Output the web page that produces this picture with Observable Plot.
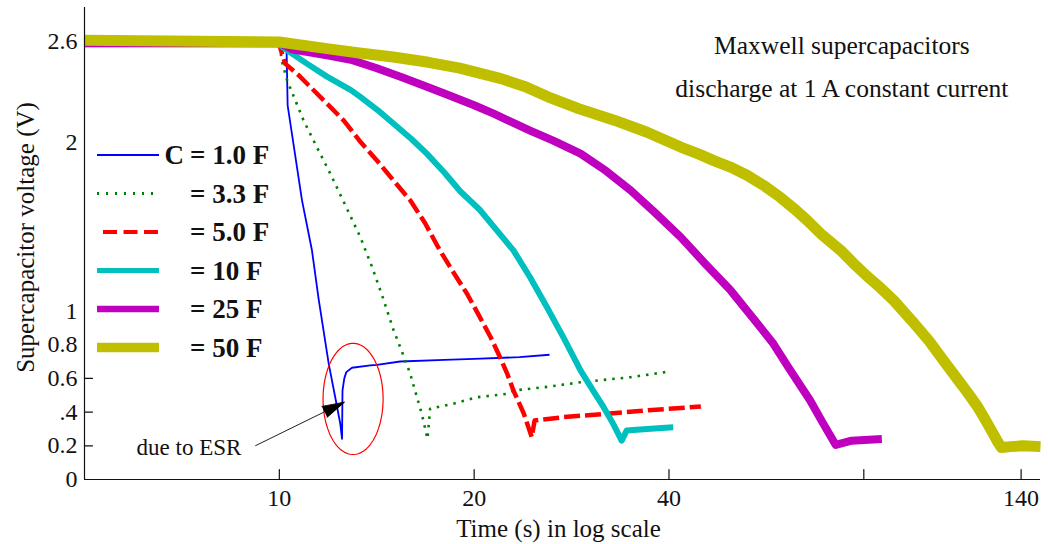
<!DOCTYPE html>
<html>
<head>
<meta charset="utf-8">
<script src="https://cdn.jsdelivr.net/npm/d3@7"></script>
<script src="https://cdn.jsdelivr.net/npm/@observablehq/plot@0.6"></script>
<style>
  body { margin: 0; background: #fff; }
  #chart { width: 1048px; height: 544px; }
</style>
</head>
<body>
<div id="chart"></div>
<script>
// ---------------- data ----------------
const seriesNames = ["1.0 F", "3.3 F", "5.0 F", "10 F", "25 F", "50 F"];
const legendLabels = ["= 1.0 F", "= 3.3 F", "= 5.0 F", "= 10 F", "= 25 F", "= 50 F"];

const time_1F = [5, 10.0, 10.26, 10.3, 10.84, 11.23, 11.5, 11.92, 12.2, 12.42, 12.5, 12.52, 12.6, 12.69, 12.95, 13.82, 14.15, 15.37, 18, 20, 23.5, 26.15];
const volt_1F = [2.58, 2.58, 2.56, 2.22, 1.656, 1.36, 1.072, 0.687, 0.488, 0.332, 0.241, 0.528, 0.60, 0.637, 0.663, 0.677, 0.68, 0.70, 0.71, 0.715, 0.726, 0.74];

const time_3F = [5, 10.0, 10.1, 10.28, 10.9, 11.4, 11.99, 12.6, 13.34, 13.91, 14.45, 15.02, 15.5, 15.93, 16.6, 16.94, 17.1, 18.38, 20.2, 22.5, 23.0, 26, 29.2, 34.9, 39.5];
const volt_3F = [2.58, 2.58, 2.477, 2.368, 2.13, 1.98, 1.814, 1.64, 1.438, 1.26, 1.08, 0.884, 0.75, 0.627, 0.39, 0.241, 0.42, 0.445, 0.488, 0.508, 0.528, 0.55, 0.577, 0.607, 0.637];

const time_5F = [5, 10.0, 10.04, 10.21, 10.7, 11.17, 11.85, 12.57, 13.3, 14.15, 15.0, 15.93, 16.8, 17.7, 18.5, 19.5, 20.3, 21.2, 21.9, 22.5, 23.0, 23.87, 24.55, 24.8, 27.5, 32.1, 37.0, 44.8];
const volt_5F = [2.58, 2.58, 2.556, 2.467, 2.40, 2.328, 2.23, 2.13, 2.01, 1.893, 1.775, 1.656, 1.52, 1.36, 1.24, 1.102, 0.98, 0.845, 0.73, 0.627, 0.528, 0.39, 0.251, 0.35, 0.37, 0.39, 0.41, 0.433];

const time_10F = [5, 10.0, 10.28, 11.0, 11.85, 12.9, 13.34, 14.2, 15.02, 16.0, 16.9, 18.0, 19.03, 20.4, 21.44, 22.2, 23.0, 24.4, 25.9, 27.5, 29.2, 30.5, 31.7, 32.8, 33.8, 34.4, 37.0, 40.6];
const volt_10F = [2.58, 2.58, 2.546, 2.47, 2.39, 2.31, 2.27, 2.19, 2.11, 2.02, 1.933, 1.82, 1.71, 1.60, 1.50, 1.43, 1.359, 1.20, 1.023, 0.84, 0.647, 0.53, 0.429, 0.33, 0.231, 0.29, 0.30, 0.31];

const time_25F = [5, 10.0, 10.5, 11.85, 12.9, 14.15, 15.5, 16.9, 18.4, 20.0, 21.44, 23.0, 24.4, 26.5, 29.2, 32.0, 34.9, 38.0, 41.7, 45.5, 49.8, 54.0, 58.0, 61.0, 66.1, 69.0, 72.4, 76.6, 85.3];
const volt_25F = [2.59, 2.59, 2.55, 2.516, 2.49, 2.44, 2.385, 2.33, 2.275, 2.22, 2.17, 2.115, 2.07, 2.01, 1.933, 1.83, 1.715, 1.585, 1.438, 1.28, 1.122, 0.955, 0.805, 0.672, 0.469, 0.342, 0.205, 0.23, 0.24];

const time_50F = [5, 10.0, 11.85, 13.3, 15.0, 17.0, 19.0, 22.0, 24.0, 26.0, 29.0, 33.0, 37.0, 41.7, 44.5, 47.0, 50.0, 52.8, 56.0, 59.4, 62.5, 65.4, 69.0, 73.7, 77.0, 81.0, 85.0, 89.0, 95.0, 101, 106, 112, 116, 120, 123, 126, 128.5, 130.5, 135, 141, 150];
const volt_50F = [2.605, 2.595, 2.556, 2.53, 2.506, 2.475, 2.44, 2.378, 2.33, 2.27, 2.2, 2.13, 2.06, 1.972, 1.93, 1.89, 1.85, 1.805, 1.745, 1.675, 1.605, 1.537, 1.45, 1.359, 1.285, 1.205, 1.135, 1.062, 0.94, 0.82, 0.71, 0.588, 0.51, 0.43, 0.36, 0.29, 0.23, 0.19, 0.195, 0.20, 0.195];

const xTickValues = [10, 20, 40, 80, 140];
const yTickValues = [0, 0.2, 0.4, 0.6, 0.8, 1, 2, 2.6];
const yTickLabels = ["0", "0.2", ".4", "0.6", "0.8", "1", "2", "2.6"];
const yTickMarks = [0.2, 0.4, 0.6];
const xDomain = [5, 150];
const yDomain = [0, 2.8];

const titleLines = ["Maxwell supercapacitors", "discharge at 1 A constant current"];
const xLabel = "Time (s) in log scale";
const yLabel = "Supercapacitor voltage (V)";
const esrLabel = "due to ESR";

// ---------------- styles ----------------
const colors = ["#0000ff", "#008000", "#ff0000", "#00bfbf", "#bf00bf", "#bfbf00"];
const widths = [1.8, 2.6, 4.5, 6, 8, 11];
const dashes = [null, "2.5,6", "16,5", null, null, null];
const legendWidths = [2, 3, 4, 5, 6.5, 9.5];
const legendDashes = [null, "2,7", "14,6.5", null, null, null];

const times = [time_1F, time_3F, time_5F, time_10F, time_25F, time_50F];
const volts = [volt_1F, volt_3F, volt_5F, volt_10F, volt_25F, volt_50F];
const series = seriesNames.map((name, k) =>
  times[k].map((t, i) => ({t, v: volts[k][i], name}))
);

// annotation geometry (data coordinates)
const esrEllipse = {t: 13.0, v: 0.478, rxDecades: 0.0464, ryVolts: 0.33};
const ellipsePts = d3.range(0, 361, 4).map(a => ({
  t: Math.pow(10, Math.log10(esrEllipse.t) + esrEllipse.rxDecades * Math.cos(a * Math.PI / 180)),
  v: esrEllipse.v + esrEllipse.ryVolts * Math.sin(a * Math.PI / 180)
}));
const arrowSpec = [{t1: 9.18, v1: 0.20, t2: 12.6, v2: 0.459}];

const ink = "#111";
const fontFamily = "'Liberation Serif', 'Times New Roman', serif";

const lineMarks = series.map((data, k) =>
  Plot.line(data, {
    x: "t", y: "v",
    stroke: colors[k],
    strokeWidth: widths[k],
    strokeDasharray: dashes[k] ?? undefined,
    strokeLinejoin: "round",
    strokeLinecap: "butt"
  })
);

const chart = Plot.plot({
  width: 1048,
  height: 544,
  marginTop: 7,
  marginRight: 8,
  marginBottom: 65,
  marginLeft: 84,
  style: {fontFamily, fontSize: "24px", color: ink, background: "white", overflow: "visible"},
  x: {
    type: "log", domain: xDomain, ticks: xTickValues,
    tickFormat: d => String(d), tickSize: 0, tickPadding: 9, label: null
  },
  y: {
    domain: yDomain, ticks: yTickValues,
    tickFormat: d => yTickLabels[yTickValues.indexOf(d)],
    tickSize: 0, tickPadding: 7, label: null
  },
  marks: [
    ...lineMarks,
    // axis lines
    Plot.ruleY([yDomain[0]], {stroke: ink, strokeWidth: 1.2}),
    Plot.ruleX([xDomain[0]], {stroke: ink, strokeWidth: 1.2}),
    // inward tick marks
    Plot.vector(xTickValues, {x: d => d, y: yDomain[0], length: 10, rotate: 0, anchor: "start", r: 0, stroke: ink, strokeWidth: 1.2}),
    Plot.vector(yTickMarks, {y: d => d, frameAnchor: "left", length: 8, rotate: 90, anchor: "start", r: 0, stroke: ink, strokeWidth: 1.2}),
    // ESR annotation
    Plot.line(ellipsePts, {x: "t", y: "v", stroke: "#ff0000", strokeWidth: 1.2}),
    Plot.link(arrowSpec, {x1: "t1", y1: "v1", x2: "t2", y2: "v2", stroke: "#222", strokeWidth: 1}),
    Plot.vector(arrowSpec, {x: "t2", y: "v2", shape: "spike", length: 22, r: 6, rotate: 64, anchor: "end", stroke: "#000", fill: "#000", strokeWidth: 1}),
    Plot.text([esrLabel], {x: 7.25, y: 0.188, text: d => d, fontSize: 23, fill: ink}),
    // title block
    Plot.text(titleLines, {x: 74, y: (d, i) => [2.572, 2.319][i], text: d => d, fontSize: 25.5, fill: ink}),
    // axis labels
    Plot.text([xLabel], {frameAnchor: "bottom", dy: 49, dx: -4, textAnchor: "middle", lineAnchor: "middle", text: d => d, fontSize: 25, fill: ink}),
    Plot.text([yLabel], {frameAnchor: "left", dx: -59, dy: -6, rotate: -90, textAnchor: "middle", lineAnchor: "middle", text: d => d, fontSize: 25, fill: ink})
  ]
});

// legend drawn inside the chart area
const legendTop = 155, legendStep = 38.5, sampleX1 = 97, sampleX2 = 159, textX = 190;
const lg = d3.select(chart).append("g")
  .attr("font-family", fontFamily).attr("font-weight", "bold")
  .attr("font-size", 27).attr("fill", ink).attr("text-anchor", "start");
seriesNames.forEach((name, k) => {
  const y = legendTop + k * legendStep;
  lg.append("line")
    .attr("x1", k === 2 ? sampleX1 + 6 : sampleX1).attr("x2", sampleX2)
    .attr("y1", y).attr("y2", y)
    .attr("stroke", colors[k]).attr("stroke-width", legendWidths[k])
    .attr("stroke-dasharray", legendDashes[k]);
  lg.append("text").attr("x", textX).attr("y", y).attr("dy", "0.35em")
    .attr("text-anchor", "start").text(legendLabels[k]);
});
lg.append("text").attr("x", textX - 6).attr("y", legendTop).attr("dy", "0.35em")
  .attr("text-anchor", "end").text("C");

document.getElementById("chart").append(chart);
</script>
</body>
</html>
